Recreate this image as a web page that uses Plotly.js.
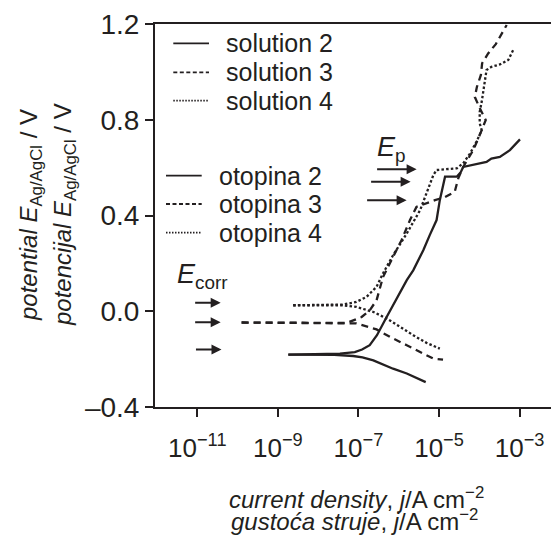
<!DOCTYPE html>
<html>
<head>
<meta charset="utf-8">
<script src="https://cdn.plot.ly/plotly-3.0.1.min.js"></script>
<style>html,body{margin:0;padding:0;background:#fff;}#chart{width:551px;height:535px;}</style>
</head>
<body>
<div id="chart"></div>
<script>
// log10(j / A cm^-2) and potential E / V
var s2CathLogJ = [-8.74, -7.60, -7.13, -6.90, -6.63, -6.14, -5.80, -5.33];
var s2CathE    = [-0.181, -0.182, -0.187, -0.193, -0.205, -0.240, -0.260, -0.296];
var s2AnodLogJ = [-8.74, -7.46, -7.09, -6.91, -6.72, -6.54, -6.30, -5.97, -5.80, -5.64, -5.39, -5.23, -5.06, -4.98, -4.90, -4.85, -4.56, -4.46, -4.40, -3.82, -3.70, -3.49, -3.24, -2.99];
var s2AnodE    = [-0.181, -0.177, -0.171, -0.160, -0.142, -0.100, -0.024, 0.074, 0.130, 0.171, 0.255, 0.318, 0.381, 0.464, 0.527, 0.562, 0.562, 0.581, 0.603, 0.624, 0.638, 0.645, 0.673, 0.718];

var s3CathLogJ = [-9.90, -7.46, -7.05, -6.55, -6.22, -5.80, -5.47, -5.14, -4.90];
var s3CathE    = [-0.047, -0.049, -0.051, -0.076, -0.107, -0.142, -0.170, -0.198, -0.202];
var s3AnodLogJ = [-9.90, -7.29, -6.92, -6.72, -6.55, -6.47, -6.39, -6.14, -5.93, -5.72, -5.56, -5.10, -4.85, -4.61, -4.52, -4.40, -4.15, -3.99, -3.84, -3.99, -4.11, -4.06, -3.96, -3.93, -3.78, -3.59, -3.32];
var s3AnodE    = [-0.047, -0.049, -0.024, 0.004, 0.046, 0.095, 0.143, 0.227, 0.297, 0.381, 0.436, 0.464, 0.477, 0.499, 0.556, 0.603, 0.673, 0.736, 0.799, 0.849, 0.895, 0.937, 0.987, 1.036, 1.077, 1.116, 1.196];

var s4CathLogJ = [-8.62, -7.38, -7.05, -6.63, -6.30, -5.97, -5.64, -5.31, -5.06, -4.98];
var s4CathE    = [0.025, 0.025, 0.018, -0.003, -0.030, -0.066, -0.100, -0.132, -0.152, -0.156];
var s4AnodLogJ = [-8.62, -7.38, -7.05, -6.80, -6.55, -6.39, -6.14, -5.80, -5.47, -5.27, -5.14, -5.06, -4.56, -4.40, -4.23, -4.07, -3.94, -3.99, -3.99, -3.94, -3.90, -3.86, -3.82, -3.70, -3.49, -3.28, -3.16];
var s4AnodE    = [0.025, 0.028, 0.039, 0.060, 0.102, 0.158, 0.234, 0.325, 0.422, 0.506, 0.569, 0.590, 0.597, 0.618, 0.659, 0.708, 0.757, 0.785, 0.833, 0.875, 0.917, 0.966, 1.008, 1.021, 1.031, 1.050, 1.091];

var xTickVals = [-11, -9, -7, -5, -3];
var xTickText = ['10<sup>\u221211</sup>', '10<sup>\u22129</sup>', '10<sup>\u22127</sup>', '10<sup>\u22125</sup>', '10<sup>\u22123</sup>'];
var yTickVals = [-0.4, 0, 0.4, 0.8, 1.2];
var yTickText = ['\u20130.4', '0.0', '0.4', '0.8', '1.2'];

var legendEn = ['solution 2', 'solution 3', 'solution 4'];
var legendHr = ['otopina 2', 'otopina 3', 'otopina 4'];

var ecorrArrowLogJ = [-10.42, -10.42, -10.40];
var ecorrArrowE    = [0.035, -0.046, -0.160];
var epArrowLogJ    = [-5.556, -5.705, -5.804];
var epArrowE       = [0.593, 0.541, 0.464];

var INK = '#231f20';
var FONT = 'Liberation Sans, Arial, Helvetica, sans-serif';
var L = 155, T = 24, W = 396, H = 383;
function px(x) { return (x - L) / W; }
function py(y) { return (T + H - y) / H; }

var dashes = ['solid', '7px,5px', '2.5px,2.2px'];
var legDashes = ['solid', '4px,2.5px', '1.5px,1.5px'];

function tr(x, y, d) {
  return {x: x, y: y, type: 'scatter', mode: 'lines', showlegend: false, hoverinfo: 'skip',
          line: {color: INK, width: 2.3, dash: d}};
}
var data = [
  tr(s2CathLogJ, s2CathE, dashes[0]), tr(s2AnodLogJ, s2AnodE, dashes[0]),
  tr(s3CathLogJ, s3CathE, dashes[1]), tr(s3AnodLogJ, s3AnodE, dashes[1]),
  tr(s4CathLogJ, s4CathE, dashes[2]), tr(s4AnodLogJ, s4AnodE, dashes[2])
];

var annotations = [];
var shapes = [];
var enY = [43.3, 72.3, 100.7], hrY = [175.7, 204, 232.7];
for (var i = 0; i < 3; i++) {
  annotations.push({xref: 'paper', yref: 'paper', x: px(224), y: py(enY[i]), xanchor: 'left', yanchor: 'middle',
    text: legendEn[i], showarrow: false, font: {family: FONT, size: 25, color: INK}});
  annotations.push({xref: 'paper', yref: 'paper', x: px(217), y: py(hrY[i]), xanchor: 'left', yanchor: 'middle',
    text: legendHr[i], showarrow: false, font: {family: FONT, size: 25, color: INK}});
  shapes.push({type: 'line', xref: 'paper', yref: 'paper', x0: px(173.3), x1: px(209), y0: py(enY[i]), y1: py(enY[i]),
    line: {color: INK, width: 1.8, dash: legDashes[i]}});
  shapes.push({type: 'line', xref: 'paper', yref: 'paper', x0: px(166), x1: px(201.7), y0: py(hrY[i]), y1: py(hrY[i]),
    line: {color: INK, width: 1.8, dash: legDashes[i]}});
  annotations.push({x: ecorrArrowLogJ[i], y: ecorrArrowE[i], xref: 'x', yref: 'y', text: '', showarrow: true,
    ax: -27, ay: 0, arrowhead: 2, arrowsize: 1, arrowwidth: 2, arrowcolor: INK, standoff: 0});
  annotations.push({x: epArrowLogJ[i], y: epArrowE[i], xref: 'x', yref: 'y', text: '', showarrow: true,
    ax: -41, ay: 0, arrowhead: 2, arrowsize: 1, arrowwidth: 2, arrowcolor: INK, standoff: 0});
}
// E labels
annotations.push({xref: 'paper', yref: 'paper', x: px(175), y: py(276), xanchor: 'left', yanchor: 'middle',
  text: '<i>E</i><sub>corr</sub>', showarrow: false, font: {family: FONT, size: 27, color: INK}});
annotations.push({xref: 'paper', yref: 'paper', x: px(375), y: py(149), xanchor: 'left', yanchor: 'middle',
  text: '<i>E</i><sub>p</sub>', showarrow: false, font: {family: FONT, size: 27, color: INK}});
// axis titles
annotations.push({xref: 'paper', yref: 'paper', x: px(356), y: py(498), xanchor: 'center', yanchor: 'middle',
  text: '<i>current density</i>, <i>j</i>/A cm<sup>\u22122</sup>', showarrow: false, font: {family: FONT, size: 24, color: INK}});
annotations.push({xref: 'paper', yref: 'paper', x: px(354), y: py(520), xanchor: 'center', yanchor: 'middle',
  text: '<i>gusto\u0107a struje</i>, <i>j</i>/A cm<sup>\u22122</sup>', showarrow: false, font: {family: FONT, size: 24, color: INK}});
annotations.push({xref: 'paper', yref: 'paper', x: px(30), y: py(215), xanchor: 'center', yanchor: 'middle', textangle: -90,
  text: '<i>potential E</i><sub>Ag/AgCl</sub> / V', showarrow: false, font: {family: FONT, size: 24, color: INK}});
annotations.push({xref: 'paper', yref: 'paper', x: px(64), y: py(215), xanchor: 'center', yanchor: 'middle', textangle: -90,
  text: '<i>potencijal E</i><sub>Ag/AgCl</sub> / V', showarrow: false, font: {family: FONT, size: 24, color: INK}});

var layout = {
  width: 551, height: 535,
  margin: {l: L, r: 551 - L - W, t: T, b: 535 - T - H, pad: 0},
  paper_bgcolor: '#fff', plot_bgcolor: '#fff',
  showlegend: false,
  font: {family: FONT, color: INK},
  xaxis: {range: [-12.05, -2.22], showgrid: false, zeroline: false, showline: true, mirror: true,
    linecolor: INK, linewidth: 2, ticks: 'outside', ticklen: 8, tickwidth: 2, tickcolor: INK,
    ticklabelstandoff: 9,
    tickvals: xTickVals, ticktext: xTickText, tickfont: {family: FONT, size: 26, color: INK}, fixedrange: true},
  yaxis: {range: [-0.4, 1.2], showgrid: false, zeroline: false, showline: true, mirror: false,
    linecolor: INK, linewidth: 2, ticks: 'outside', ticklen: 8, tickwidth: 2, tickcolor: INK,
    tickvals: yTickVals, ticktext: yTickText, tickfont: {family: FONT, size: 28, color: INK}, fixedrange: true},
  annotations: annotations,
  shapes: shapes
};
Plotly.newPlot('chart', data, layout, {staticPlot: true, displayModeBar: false});
</script>
</body>
</html>
